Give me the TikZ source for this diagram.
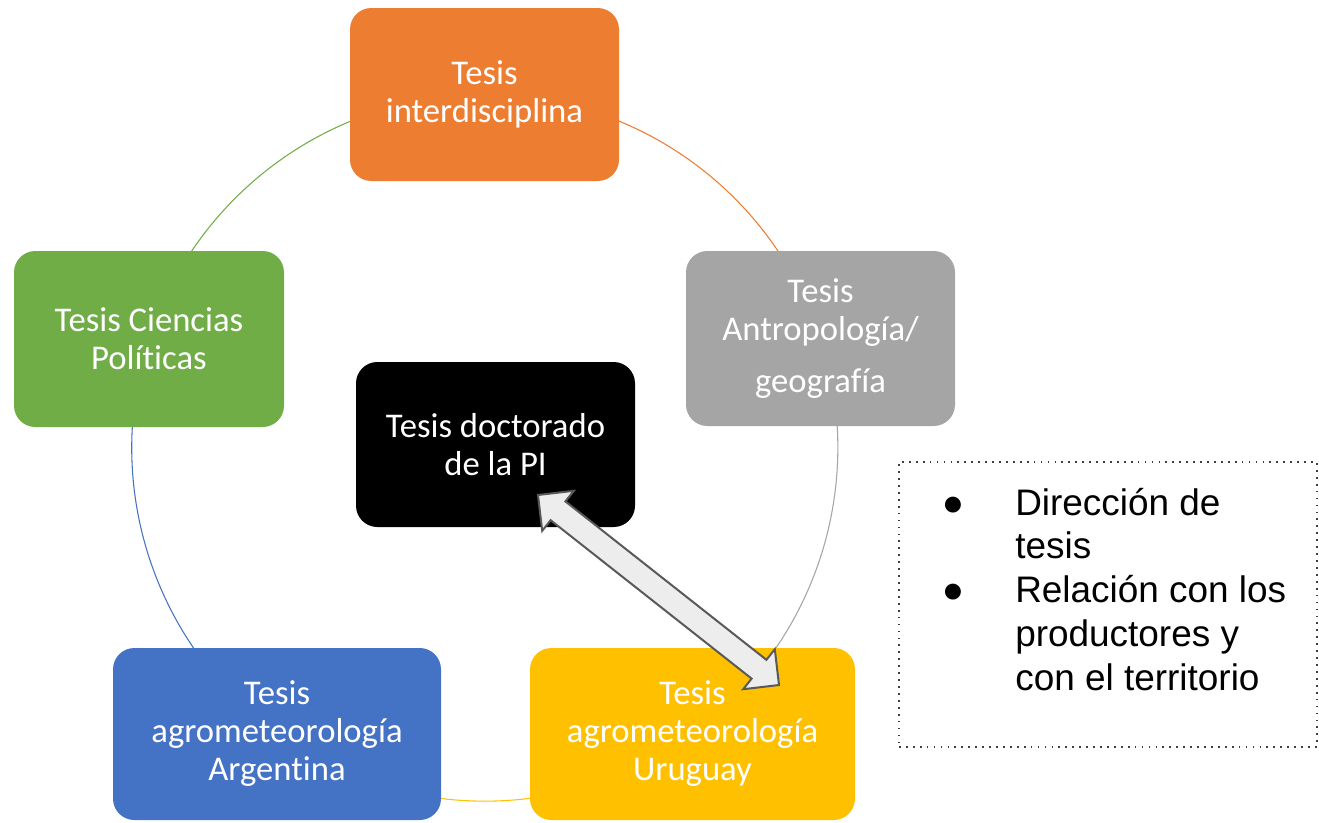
\documentclass[tikz,border=0pt]{standalone}
\usepackage{fontspec}
\setmainfont{Carlito}[Ligatures=NoCommon]
\newfontfamily\arialf{Liberation Sans}
\usetikzlibrary{backgrounds}
\definecolor{corange}{HTML}{ED7D31}
\definecolor{cgrey}{HTML}{A5A5A5}
\definecolor{cyellow}{HTML}{FFC000}
\definecolor{cblue}{HTML}{4472C4}
\definecolor{cgreen}{HTML}{70AD47}
\definecolor{arrowfill}{HTML}{EDEDED}
\definecolor{arrowedge}{HTML}{595959}
\begin{document}
\begin{tikzpicture}[x=0.75pt,y=-0.75pt,
  box/.style={rounded corners=16pt, text=white, align=center, inner sep=0pt,
    font=\fontsize{26pt}{28.5pt}\selectfont},
  ring/.style={line width=0.8pt, bend left=36, looseness=0.94},
  listtext/.style={font=\arialf\fontsize{27.7pt}{32.8pt}\selectfont, align=left, inner sep=0pt}
]
\useasboundingbox (0,0) rectangle (1319,822);

\node[box, fill=corange, minimum width=201.75pt, minimum height=129.75pt] (orange) at (484.5,94.5) {Tesis\\interdisciplina};
\node[box, fill=cgrey, minimum width=201.75pt, minimum height=131.25pt] (grey) at (820.5,338.5) {Tesis\\Antropología/\\[10pt]geografía};
\node[box, fill=cgreen, minimum width=202.5pt, minimum height=132pt] (green) at (149,339) {Tesis Ciencias\\Políticas};
\node[box, fill=black, minimum width=209.25pt, minimum height=123.75pt] (black) at (495.5,444.5) {Tesis doctorado\\de la PI};
\node[box, fill=cblue, minimum width=246pt, minimum height=129pt] (blue) at (277,734) {Tesis\\agrometeorología\\Argentina};
\node[box, fill=cyellow, minimum width=243.75pt, minimum height=129pt] (yellow) at (692.5,734) {Tesis\\agrometeorología\\Uruguay};

\begin{scope}[on background layer]
\draw[ring, corange] (orange.center) to (grey.center);
\draw[ring, cgrey] (grey.center) to (yellow.center);
\draw[ring, cyellow] (yellow.center) to (blue.center);
\draw[ring, cblue] (blue.center) to (green.center);
\draw[ring, cgreen] (green.center) to (orange.center);
\end{scope}

% double arrow
\coordinate (ta) at (538,495);
\coordinate (tb) at (779,685);
\draw[fill=arrowfill, draw=arrowedge, line width=1.5pt, line join=miter]
  (ta) -- (573.8,490.8) -- (565.4,501.4) -- (766.4,659.8) -- (774.8,649.2)
  -- (tb) -- (743.2,689.2) -- (751.6,678.6) -- (550.6,520.2) -- (542.2,530.8) -- cycle;

% dotted box
\node[draw=black!75, line width=1.3pt, dash pattern=on 1.3pt off 3.9pt,
  minimum width=313.5pt, minimum height=213.75pt, inner sep=0pt] (list) at (1108,604.5) {};
\node[listtext, anchor=base west] (items) at (1015,690)
  {Dirección de\\tesis\\Relación con los\\productores y\\con el territorio};
\node[font=\arialf\fontsize{27.7pt}{32.8pt}\selectfont, inner sep=0pt, anchor=base] (b1) at (953,515) {●};
\node[font=\arialf\fontsize{27.7pt}{32.8pt}\selectfont, inner sep=0pt, anchor=base] (b2) at (953,602.5) {●};
\end{tikzpicture}
\end{document}
